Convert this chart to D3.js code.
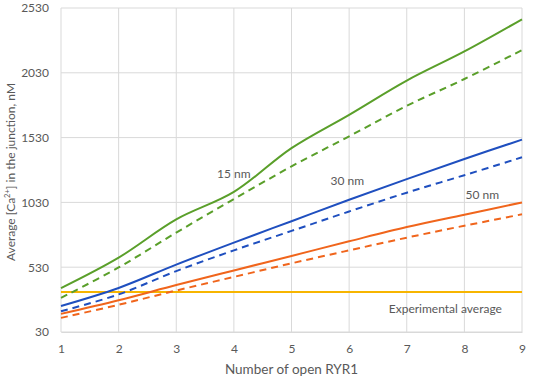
<!DOCTYPE html>
<html>
<head>
<meta charset="utf-8">
<script src="https://cdn.jsdelivr.net/npm/d3@7"></script>
<style>
  body { margin: 0; background: #fff; }
  text { font-family: Lato, "Liberation Sans", sans-serif; fill: #595959; }
</style>
</head>
<body>
<svg id="chart" width="533" height="380"></svg>
<script>
var openRyr = [1, 2, 3, 4, 5, 6, 7, 8, 9];
var yTicks = [30, 530, 1030, 1530, 2030, 2530];

var solid15 = [369, 604, 899, 1111, 1449, 1706, 1970, 2195, 2443];
var dashed15 = [293, 528, 797, 1055, 1308, 1540, 1775, 1982, 2205];
var solid30 = [231, 370, 550, 720, 885, 1050, 1210, 1365, 1514];
var dashed30 = [190, 320, 500, 660, 810, 960, 1105, 1240, 1378];
var solid50 = [170, 275, 392, 505, 617, 730, 840, 935, 1030];
var dashed50 = [139, 240, 350, 455, 560, 660, 758, 850, 938];
var experimental = [338, 338, 338, 338, 338, 338, 338, 338, 338];

var margin = { top: 8, right: 11, bottom: 48, left: 61 },
    width = 533 - margin.left - margin.right,
    height = 380 - margin.top - margin.bottom;

var svg = d3.select("#chart")
    .append("g")
    .attr("transform", "translate(" + margin.left + "," + margin.top + ")");

var x = d3.scaleLinear().domain([1, 9]).range([0, width]);
var y = d3.scaleLinear().domain([30, 2530]).range([height, 0]);

// grid
svg.selectAll(".hgrid")
    .data(yTicks)
    .enter().append("line")
    .attr("x1", 0).attr("x2", width)
    .attr("y1", d => y(d)).attr("y2", d => y(d))
    .attr("stroke", "#d9d9d9").attr("stroke-width", 1);

svg.selectAll(".vgrid")
    .data(openRyr)
    .enter().append("line")
    .attr("x1", d => x(d)).attr("x2", d => x(d))
    .attr("y1", 0).attr("y2", height)
    .attr("stroke", "#d9d9d9").attr("stroke-width", 1);

// axes
var xAxis = svg.append("g")
    .attr("transform", "translate(0," + height + ")")
    .call(d3.axisBottom(x).tickValues(openRyr).tickSize(0).tickPadding(12).tickFormat(d3.format("d")));
xAxis.select(".domain").attr("stroke", "#d9d9d9");
xAxis.selectAll("text").style("font-size", "12px").attr("fill", "#595959");

var yAxis = svg.append("g")
    .call(d3.axisLeft(y).tickValues(yTicks).tickSize(0).tickPadding(12).tickFormat(d3.format("d")));
yAxis.select(".domain").remove();
yAxis.selectAll("text").style("font-size", "12px").attr("fill", "#595959");

// lines
var line = d3.line()
    .x((d, i) => x(openRyr[i]))
    .y(d => y(d))
    .curve(d3.curveCatmullRom.alpha(0.5));

var series = [
    { values: experimental, color: "#f7b500", dash: null },
    { values: dashed50, color: "#f0651c", dash: "7,5" },
    { values: solid50, color: "#f0651c", dash: null },
    { values: dashed30, color: "#1f4fbf", dash: "7,5" },
    { values: solid30, color: "#1f4fbf", dash: null },
    { values: dashed15, color: "#5a9f2a", dash: "7,5" },
    { values: solid15, color: "#5a9f2a", dash: null }
];

svg.selectAll(".series")
    .data(series)
    .enter().append("path")
    .attr("class", "series")
    .attr("d", d => line(d.values))
    .attr("fill", "none")
    .attr("stroke", d => d.color)
    .attr("stroke-width", 2)
    .attr("stroke-dasharray", d => d.dash);

// annotations
var notes = [
    { label: "15 nm", x: 4.0, y: 1220 },
    { label: "30 nm", x: 5.97, y: 1163 },
    { label: "50 nm", x: 8.31, y: 1055 },
    { label: "Experimental average", x: 7.67, y: 180 }
];
svg.selectAll(".note")
    .data(notes)
    .enter().append("text")
    .attr("x", d => x(d.x))
    .attr("y", d => y(d.y))
    .attr("text-anchor", "middle")
    .style("font-size", "12px")
    .text(d => d.label);

// axis titles
svg.append("text")
    .attr("x", width / 2)
    .attr("y", height + 42)
    .attr("text-anchor", "middle")
    .style("font-size", "13.5px")
    .text("Number of open RYR1");

var yTitle = svg.append("text")
    .attr("transform", "translate(" + (-margin.left + 15) + "," + 164 + ") rotate(-90)")
    .attr("text-anchor", "middle")
    .style("font-size", "12px");
yTitle.append("tspan").text("Average [Ca");
yTitle.append("tspan").attr("dy", -5).style("font-size", "7.5px").text("2+");
yTitle.append("tspan").attr("dy", 5).text("] in the junction, nM");
</script>
</body>
</html>
